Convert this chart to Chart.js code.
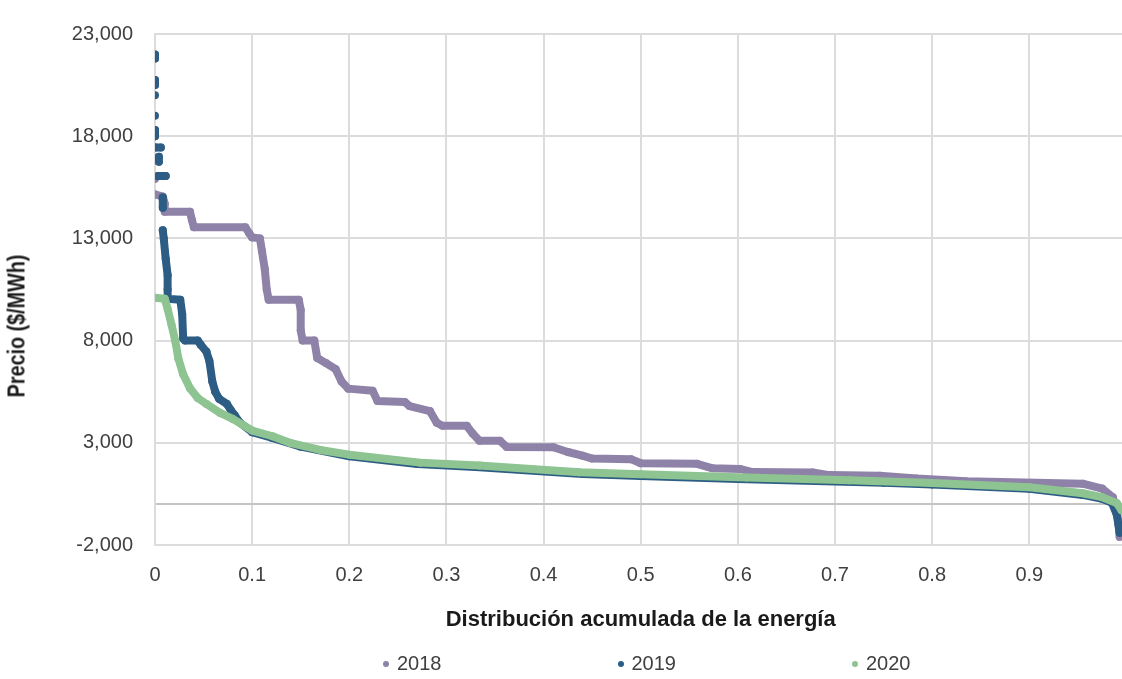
<!DOCTYPE html>
<html>
<head>
<meta charset="utf-8">
<script src="https://cdn.jsdelivr.net/npm/chart.js@4.4.1/dist/chart.umd.min.js"></script>
<style>
    html, body { margin: 0; padding: 0; background: #fff; overflow: hidden; }
    #wrap { position: relative; width: 1122px; height: 679px; overflow: hidden; }
    #priceChart { position: absolute; left: 0; top: 0; }
    #yTitle {
        position: absolute; left: 17px; top: 326px;
        transform: translate(-50%, -50%) rotate(-90deg) scaleX(0.86);
        font: bold 23px 'Liberation Sans', Arial, sans-serif;
        color: #1a1a1a; white-space: nowrap;
    }
    #legend {
        position: absolute; left: 383px; top: 652px;
        display: flex; gap: 176px;
        font: 20px 'Liberation Sans', Arial, sans-serif; color: #404040;
    }
    #legend .item { display: flex; align-items: center; }
    #legend .dot { width: 6px; height: 6px; border-radius: 50%; margin-right: 8px; }
</style>
</head>
<body>
<div id="wrap">
    <canvas id="priceChart" width="1150" height="679" style="width:1150px;height:679px"></canvas>
    <div id="yTitle">Precio ($/MWh)</div>
    <div id="legend"></div>
</div>
<script>
// Series labels and colours
const seriesNames = ['2018', '2019', '2020'];
const seriesColors = ['#8f82a8', '#2d5d84', '#8dc491'];

// 2018 price duration curve
const x2018 = [0.000, 0.000, 0.008, 0.010, 0.010, 0.036, 0.038, 0.040, 0.093, 0.097, 0.100, 0.108, 0.110, 0.113,
    0.115, 0.117, 0.148, 0.150, 0.150, 0.152, 0.164, 0.167, 0.176, 0.186, 0.192, 0.199, 0.224, 0.229, 0.257,
    0.262, 0.283, 0.290, 0.296, 0.321, 0.327, 0.334, 0.355, 0.362, 0.410, 0.425, 0.440, 0.450, 0.490, 0.500,
    0.558, 0.574, 0.602, 0.615, 0.677, 0.694, 0.746, 0.784, 0.835, 0.955, 0.975, 0.986, 0.990, 0.992, 0.993];
const y2018 = [15900, 15150, 15050, 14700, 14300, 14300, 13900, 13550, 13550, 13250, 13050, 13000, 12400, 11500,
    10500, 10000, 10000, 9500, 8500, 8000, 8000, 7150, 6900, 6600, 6000, 5650, 5550, 5050, 5000,
    4800, 4550, 3980, 3830, 3830, 3450, 3100, 3100, 2800, 2780, 2550, 2370, 2230, 2200, 2000,
    1970, 1750, 1720, 1570, 1550, 1420, 1390, 1250, 1120, 1000, 760, 330, -300, -1000, -1600];

// 2019 price duration curve
const x2019 = [0.000, 0.000, 0.000, 0.000, 0.000, 0.000, 0.000, 0.000, 0.001, 0.006, 0.004, 0.004, 0.003, 0.011,
    0.008, 0.008, 0.008, 0.008, 0.009, 0.011, 0.013, 0.013, 0.013, 0.026, 0.028, 0.029, 0.031, 0.044, 0.047,
    0.053, 0.056, 0.059, 0.062, 0.066, 0.074, 0.078, 0.082, 0.087, 0.100, 0.120, 0.150, 0.200, 0.270, 0.330,
    0.440, 0.500, 0.600, 0.750, 0.800, 0.900, 0.955, 0.975, 0.985, 0.990, 0.993];
const y2019 = [22000, 21800, 20750, 20500, 20000, 19000, 18300, 18000, 17450, 17450, 17000, 16750, 16050, 16050,
    15000, 14900, 14500, 13400, 13000, 12000, 11200, 10500, 10050, 10000, 9300, 8100, 8000, 8000, 7800,
    7450, 7000, 6000, 5500, 5150, 4900, 4600, 4350, 4000, 3520, 3250, 2810, 2340, 1960, 1820,
    1470, 1380, 1230, 1050, 960, 750, 450, 260, 70, -500, -1400];

// 2020 price duration curve
const x2020 = [0.000, 0.010, 0.013, 0.017, 0.021, 0.024, 0.029, 0.036, 0.044, 0.053, 0.067, 0.080, 0.100, 0.121,
    0.140, 0.170, 0.200, 0.273, 0.334, 0.437, 0.500, 0.609, 0.715, 0.800, 0.900, 0.955, 0.975, 0.990, 0.995];
const y2020 = [10100, 10050, 9550, 8780, 7950, 7130, 6350, 5670, 5190, 4900, 4460, 4170, 3600, 3320,
    2980, 2650, 2420, 2030, 1890, 1560, 1460, 1300, 1170, 1030, 830, 530, 340, 50, -300];

// Axis settings
const yTicks = [-2000, 3000, 8000, 13000, 18000, 23000];
const xTickStep = 0.1;

const fontFamily = "'Liberation Sans', Arial, sans-serif";

function toPoints(xs, ys) {
    return xs.map((x, i) => ({ x: x, y: ys[i] }));
}

const xs = [x2018, x2019, x2020];
const ys = [y2018, y2019, y2020];

const datasets = seriesNames.map((name, i) => ({
    label: name,
    data: toPoints(xs[i], ys[i]),
    showLine: true,
    borderColor: seriesColors[i],
    backgroundColor: seriesColors[i],
    borderWidth: 8,
    borderCapStyle: 'round',
    borderJoinStyle: 'round',
    pointRadius: 4,
    pointBorderWidth: 0,
    pointHoverRadius: 4,
    order: 3 - i, // later years drawn on top
    // isolated high-price points are not joined
    segment: {
        borderColor: ctx => (ctx.p0.parsed.y > 13000 && Math.abs(ctx.p0.parsed.y - ctx.p1.parsed.y) > 400) ? 'transparent' : undefined
    }
}));

const ctx = document.getElementById('priceChart').getContext('2d');
const chart = new Chart(ctx, {
    type: 'scatter',
    data: { datasets: datasets },
    options: {
        responsive: false,
        animation: false,
        layout: { padding: { top: 30, right: 23, left: 0, bottom: 0 } },
        plugins: {
            legend: { display: false },
            tooltip: { enabled: false }
        },
        scales: {
            x: {
                type: 'linear',
                min: 0,
                max: 1,
                afterFit: scale => { scale.height = 134; },
                grid: { color: '#dcdcdc', lineWidth: 2, drawTicks: false },
                border: { color: '#dcdcdc', width: 2 },
                ticks: {
                    stepSize: xTickStep,
                    padding: 18,
                    color: '#404040',
                    font: { family: fontFamily, size: 20 },
                    maxRotation: 0,
                    callback: value => Number(value.toFixed(1)).toString()
                },
                title: {
                    display: true,
                    text: 'Distribución acumulada de la energía',
                    color: '#1a1a1a',
                    font: { family: fontFamily, size: 22, weight: 'bold' },
                    padding: { top: 0, bottom: 46 }
                }
            },
            y: {
                min: yTicks[0],
                max: yTicks[yTicks.length - 1],
                afterFit: scale => { scale.width = 155; },
                afterBuildTicks: scale => {
                    // ticks from the list, plus the zero line
                    scale.ticks = yTicks.concat([0]).sort((a, b) => a - b).map(v => ({ value: v }));
                },
                grid: {
                    color: c => (c.tick && c.tick.value === 0) ? '#c4c4c4' : '#dcdcdc',
                    lineWidth: 2,
                    drawTicks: false
                },
                border: { color: '#dcdcdc', width: 2 },
                ticks: {
                    padding: 22,
                    color: '#404040',
                    font: { family: fontFamily, size: 20 },
                    callback: value => value === 0 ? '' : value.toLocaleString('en-US')
                }
            }
        }
    }
});

// Legend row built from the datasets
const legend = document.getElementById('legend');
chart.data.datasets.forEach(ds => {
    const item = document.createElement('div');
    item.className = 'item';
    item.innerHTML = '<span class="dot" style="background:' + ds.borderColor + '"></span><span>' + ds.label + '</span>';
    legend.appendChild(item);
});
</script>
</body>
</html>
